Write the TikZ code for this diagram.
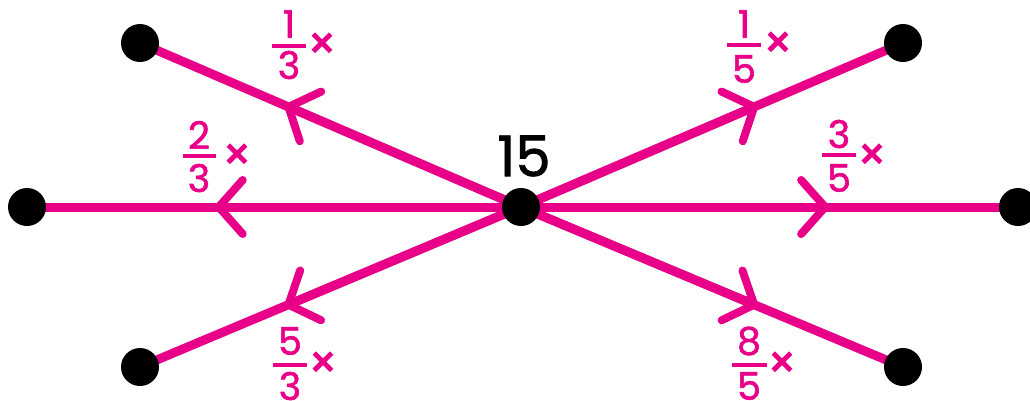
\documentclass[tikz,border=0pt]{standalone}
\usepackage{fontspec}
\setmainfont{Poppins}
\newfontfamily\numfont[FakeBold=1.6]{Poppins}
\newfontfamily\tmsfont[FakeBold=2.5]{Poppins}
\usetikzlibrary{arrows.meta,calc}
\definecolor{mag}{RGB}{232,0,136}
\begin{document}
\begin{tikzpicture}[x=1pt,y=-1pt,
  edge/.style={mag,line width=9pt},
  dot/.style={circle,fill=black,minimum size=38pt,inner sep=0pt},
  head/.style={mag,line width=9pt,-{Straight Barb[length=24pt,width=54pt,line width=8pt,round]}},
  num/.style={mag,font=\numfont\fontsize{38}{38}\selectfont,inner sep=0pt},
  tms/.style={mag,font=\tmsfont\fontsize{44}{44}\selectfont,inner sep=0pt},
  bar/.style={mag,line width=3.5pt},
  big/.style={black,font=\numfont\fontsize{56}{56}\selectfont,inner sep=0pt}]
\useasboundingbox (0,0) rectangle (1030,400);
\clip (0,0) rectangle (1030,400);
% nodes
\coordinate (c) at (521,207);
\coordinate (lt) at (140,43);
\coordinate (lm) at (27,207);
\coordinate (lb) at (140,367);
\coordinate (rt) at (903,43);
\coordinate (rm) at (1018,207);
\coordinate (rb) at (903,367);
% edges
\foreach \t in {lt,lm,lb,rt,rm,rb}{
  \draw[edge] (c) -- (\t);
  \draw[head] (c) -- ($(c)!0.62!(\t)$);
}
% dots
\node[dot] (nc) at (c) {};
\node[dot] (nlt) at (lt) {};
\node[dot] (nlm) at (lm) {};
\node[dot] (nlb) at (lb) {};
\node[dot] (nrt) at (rt) {};
\node[dot] (nrm) at (rm) {};
\node[dot] (nrb) at (rb) {};
% center label
\node[big] (l15) at (524,156) {15};
% 1/3
\node[num] (a1) at (289,24) {1};
\draw[bar] (272,46) -- (306,46);
\node[num] (a2) at (289,65) {3};
\node[tms] (ax) at (322,46) {×};
% 1/5
\node[num] (b1) at (744,24) {1};
\draw[bar] (727,45) -- (761,45);
\node[num] (b2) at (744,69) {5};
\node[tms] (bx) at (778,45) {×};
% 2/3
\node[num] (c1) at (199,135) {2};
\draw[bar] (183,156) -- (216,156);
\node[num] (c2) at (199,178) {3};
\node[tms] (cx) at (237,157) {×};
% 3/5
\node[num] (d1) at (839,134) {3};
\draw[bar] (822,155) -- (856,155);
\node[num] (d2) at (839,178) {5};
\node[tms] (dx) at (872,157) {×};
% 5/3
\node[num] (e1) at (290,341) {5};
\draw[bar] (273,365) -- (307,365);
\node[num] (e2) at (290,386) {3};
\node[tms] (ex) at (323,365) {×};
% 8/5
\node[num] (f1) at (749,341) {8};
\draw[bar] (732,365) -- (767,365);
\node[num] (f2) at (749,386) {5};
\node[tms] (fx) at (782,365) {×};
\end{tikzpicture}
\end{document}
